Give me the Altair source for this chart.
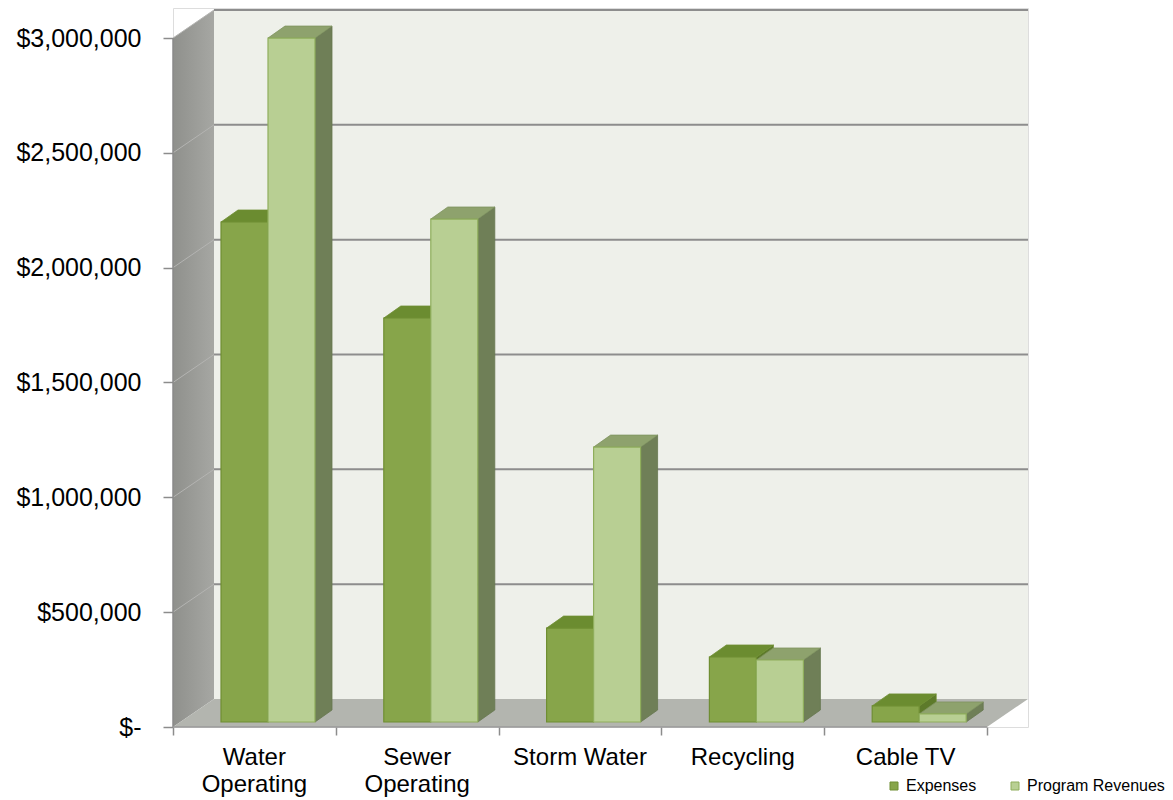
import altair as alt
import pandas as pd

# ---------------- data ----------------
categories = ["Water\nOperating", "Sewer\nOperating", "Storm Water", "Recycling", "Cable TV"]
series = ["Expenses", "Program Revenues"]
expenses = [2177000, 1759000, 409000, 283000, 70000]
revenues = [2978000, 2190000, 1197000, 270000, 35000]
y_ticks = [0, 500000, 1000000, 1500000, 2000000, 2500000, 3000000]

# ---------------- layout (pixels) ----------------
PLOT_W, PLOT_H = 855, 719
CAT_PX = 162.8
VAL_PX = 689 / 3000000
WALL_DX, WALL_DY = 41, 28
BAR_DX, BAR_DY = 17, 12
BAR_BASE = 5
BAR_LEFT = 48
BAR_W = 47


def ux(px):
    return px / CAT_PX


def uy(px):
    return px / VAL_PX


N = len(categories)
TOP = max(y_ticks)
XMAX = ux(PLOT_W)
YMAX = uy(PLOT_H)

# colours
EXP_FRONT, EXP_TOP, EXP_SIDE, EXP_EDGE = "#87a54a", "#6b8c30", "#5d7a2a", "#6f8e32"
REV_FRONT, REV_TOP, REV_SIDE, REV_EDGE = "#b8cf93", "#8ea26d", "#6f7f57", "#8fae5c"

# ---------------- geometry tables ----------------
left_wall = pd.DataFrame({"x": [0, ux(WALL_DX)], "y": [0, uy(WALL_DY)],
                          "y2": [TOP, TOP + uy(WALL_DY)]})
floor = pd.DataFrame({"y": [0, uy(WALL_DY)], "x": [0, ux(WALL_DX)],
                      "x2": [N, N + ux(WALL_DX)]})
back = pd.DataFrame({"x": [ux(WALL_DX)], "x2": [N + ux(WALL_DX)],
                     "y": [uy(WALL_DY)], "y2": [TOP + uy(WALL_DY)]})
grid = pd.DataFrame({"y": [t + uy(WALL_DY) for t in y_ticks[1:]]})
grid["x"] = ux(WALL_DX)
grid["x2"] = N + ux(WALL_DX)
diag = pd.DataFrame({"y": y_ticks[1:], "y2": [t + uy(WALL_DY) for t in y_ticks[1:]]})
diag["x"] = 0.0
diag["x2"] = ux(WALL_DX)
front_axis = pd.DataFrame({"x": [0.0], "y": [0.0], "y2": [TOP]})
bottom_axis = pd.DataFrame({"x": [0.0], "x2": [float(N)], "y": [0.0]})

front_rows, side_rows, top_rows = [], [], []
for i in range(N):
    for s, vals in enumerate([expenses, revenues]):
        bid = f"{i}-{s}"
        x0 = i + ux(BAR_LEFT + s * BAR_W)
        x1 = x0 + ux(BAR_W)
        y0 = uy(BAR_BASE)
        y1 = y0 + vals[i]
        front_rows.append({"id": bid, "series": series[s], "x0": x0, "x1": x1, "y0": y0, "y1": y1})
        side_rows.append({"id": bid, "series": series[s], "x": x1, "lo": y0, "hi": y1})
        side_rows.append({"id": bid, "series": series[s], "x": x1 + ux(BAR_DX),
                          "lo": y0 + uy(BAR_DY), "hi": y1 + uy(BAR_DY)})
        top_rows.append({"id": bid, "series": series[s], "y": y1, "lo": x0, "hi": x1})
        top_rows.append({"id": bid, "series": series[s], "y": y1 + uy(BAR_DY),
                         "lo": x0 + ux(BAR_DX), "hi": x1 + ux(BAR_DX)})
fronts = pd.DataFrame(front_rows)
sides = pd.DataFrame(side_rows)
tops = pd.DataFrame(top_rows)
labels = pd.DataFrame({"x": [i + 0.5 for i in range(N)], "y": [0.0] * N, "label": categories})

# ---------------- scales & axes ----------------
XS = alt.Scale(domain=[0, XMAX], nice=False, zero=False)
YS = alt.Scale(domain=[0, YMAX], nice=False, zero=False)
XAXIS = alt.Axis(values=list(range(N + 1)), labels=False, tickSize=8, tickColor="#8c8c8c",
                 tickWidth=1.5, domain=False, grid=False)
YAXIS = alt.Axis(values=y_ticks,
                 labelExpr="datum.value == 0 ? '$-' : '$' + format(datum.value, ',')",
                 labelFontSize=25, labelFont="Liberation Sans", labelColor="black",
                 tickSize=10, tickColor="#8c8c8c", tickWidth=1.5, labelPadding=22,
                 domain=False, grid=False)


def X(f):
    return alt.X(f"{f}:Q", scale=XS, axis=XAXIS, title=None, stack=None)


def Y(f):
    return alt.Y(f"{f}:Q", scale=YS, axis=YAXIS, title=None, stack=None)


# ---------------- layers ----------------
back_layer = alt.Chart(back).mark_rect(color="#eef0ea").encode(
    x=X("x"), x2="x2:Q", y=Y("y"), y2="y2:Q")

grid_layer = alt.Chart(grid).mark_rule(color="#8d8d8d", strokeWidth=2).encode(
    x=X("x"), x2="x2:Q", y=Y("y"))

wall_grad = alt.Gradient(gradient="linear",
                         stops=[alt.GradientStop(color="#8f908c", offset=0),
                                alt.GradientStop(color="#a6a7a3", offset=1)],
                         x1=0, x2=1, y1=0, y2=0)
left_layer = alt.Chart(left_wall).mark_area(color=wall_grad, orient="vertical").encode(
    x=X("x"), y=Y("y"), y2="y2:Q")

diag_layer = alt.Chart(diag).mark_rule(color="#b4b4b2", strokeWidth=1).encode(
    x=X("x"), x2="x2:Q", y=Y("y"), y2="y2:Q")

floor_layer = alt.Chart(floor).mark_area(color="#b3b5af", orient="horizontal").encode(
    y=Y("y"), x=X("x"), x2="x2:Q")

front_axis_layer = alt.Chart(front_axis).mark_rule(color="#8a8a8a", strokeWidth=1.5).encode(
    x=X("x"), y=Y("y"), y2="y2:Q")
bottom_axis_layer = alt.Chart(bottom_axis).mark_rule(color="#9a9a9a", strokeWidth=1.5).encode(
    x=X("x"), x2="x2:Q", y=Y("y"))


def side_layer(name, fill, edge):
    return alt.Chart(sides[sides.series == name]).mark_area(
        fill=fill, stroke=edge, strokeWidth=0.8, orient="vertical").encode(
        x=X("x"), y=Y("lo"), y2="hi:Q", detail="id:N")


def top_layer(name, fill, edge):
    return alt.Chart(tops[tops.series == name]).mark_area(
        fill=fill, stroke=edge, strokeWidth=0.8, orient="horizontal").encode(
        y=Y("y"), x=X("lo"), x2="hi:Q", detail="id:N")


front_layer = alt.Chart(fronts).mark_rect(strokeWidth=1.2).encode(
    x=X("x0"), x2="x1:Q", y=Y("y0"), y2="y1:Q",
    color=alt.Color("series:N",
                    scale=alt.Scale(domain=series, range=[EXP_FRONT, REV_FRONT]),
                    legend=alt.Legend(title=None, orient="none", direction="horizontal",
                                      legendX=713, legendY=770, symbolType="square",
                                      symbolSize=64, symbolStrokeColor="#6f8e32",
                                      symbolStrokeWidth=1, labelFontSize=16,
                                      labelFont="Liberation Sans", labelColor="black",
                                      labelOffset=4, columnPadding=30)),
    stroke=alt.Stroke("series:N",
                      scale=alt.Scale(domain=series, range=[EXP_EDGE, REV_EDGE]),
                      legend=None))

label_layer = alt.Chart(labels).mark_text(
    baseline="top", dy=19, fontSize=24, lineBreak="\n", lineHeight=27,
    font="Liberation Sans", color="black").encode(
    x=X("x"), y=Y("y"), text="label:N")

chart = alt.layer(
    back_layer, grid_layer, left_layer, diag_layer, floor_layer,
    front_axis_layer, bottom_axis_layer,
    side_layer("Expenses", EXP_SIDE, EXP_EDGE),
    side_layer("Program Revenues", REV_SIDE, "#66764f"),
    top_layer("Expenses", EXP_TOP, EXP_EDGE),
    top_layer("Program Revenues", REV_TOP, "#7f9360"),
    front_layer,
    label_layer,
).properties(
    width=PLOT_W, height=PLOT_H,
    padding={"left": 15, "top": 8, "right": 2, "bottom": 0},
    background="white",
).configure_view(stroke=None).configure(font="Liberation Sans")

chart.save("out.html", embed_options={"renderer": "svg", "actions": False})
